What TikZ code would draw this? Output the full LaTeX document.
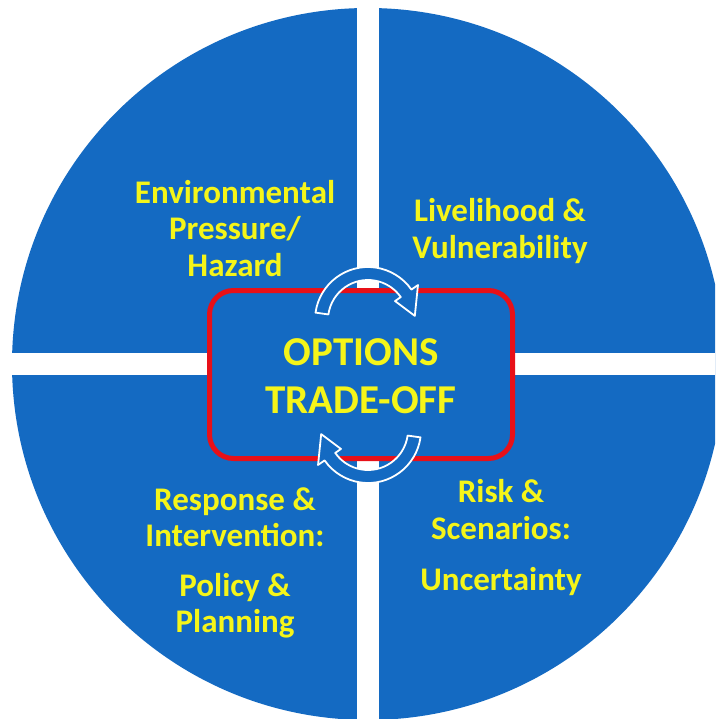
\documentclass[tikz,border=0pt]{standalone}
\usepackage{fontspec}
\setmainfont{Carlito}
\usetikzlibrary{calc}
\definecolor{qblue}{RGB}{20,106,194}
\definecolor{qred}{RGB}{232,16,24}
\definecolor{qyellow}{RGB}{245,245,25}
\begin{document}
\begin{tikzpicture}[x=1pt,y=-1pt,
 lbl/.style={text=qyellow, font=\bfseries\fontsize{33}{38}\selectfont, anchor=base, inner sep=0pt},
 big/.style={text=qyellow, font=\bfseries\fontsize{41}{48}\selectfont, anchor=base, inner sep=0pt},
 cyc/.style={fill=qblue, draw=white, line width=1.8pt, line join=round},
 optbox/.style={draw=qred, fill=qblue, line width=5pt, rounded corners=24pt, minimum width=303pt, minimum height=168pt, inner sep=0pt}]
\useasboundingbox (0,0) rectangle (715,719);
\fill[white] (0,0) rectangle (715,719);
\clip (0,0) rectangle (715,719);
\coordinate (O) at (368,364);
\fill[qblue] (O) circle[radius=356];
\fill[white] (357,0) rectangle (379,719);
\fill[white] (0,353) rectangle (715,375);
\node[optbox] (box) at (361,374.5) {};
% cycle arrows
\coordinate (ta) at (368,320);
\coordinate (ba) at (368,430);
\draw[cyc] ($(ta)+(188:53)$) arc[start angle=188, end angle=325, radius=53]
  -- ($(ta)+(325:61)$) -- ($(ta)+(355:47)$) -- ($(ta)+(325:33)$) -- ($(ta)+(325:40)$)
  arc[start angle=325, end angle=188, radius=40] -- cycle;
\draw[cyc] ($(ba)+(8:53)$) arc[start angle=8, end angle=145, radius=53]
  -- ($(ba)+(145:61)$) -- ($(ba)+(175:47)$) -- ($(ba)+(145:33)$) -- ($(ba)+(145:40)$)
  arc[start angle=145, end angle=8, radius=40] -- cycle;
% texts
\node[big] (opt1) at (361,365) {OPTIONS};
\node[big] (opt2) at (361,413) {TRADE-OFF};
\node[lbl] (env1) at (235,204) {Environmental};
\node[lbl] (env2) at (235,240) {Pressure/};
\node[lbl] (env3) at (235,276) {Hazard};
\node[lbl] (liv1) at (500,222) {Livelihood \&};
\node[lbl] (liv2) at (500,258) {Vulnerability};
\node[lbl] (res1) at (235,510) {Response \&};
\node[lbl] (res2) at (235,546) {Intervention:};
\node[lbl] (pol1) at (235,596) {Policy \&};
\node[lbl] (pol2) at (235,632) {Planning};
\node[lbl] (risk1) at (501,502) {Risk \&};
\node[lbl] (risk2) at (501,539) {Scenarios:};
\node[lbl] (unc) at (501,590) {Uncertainty};
\end{tikzpicture}
\end{document}
